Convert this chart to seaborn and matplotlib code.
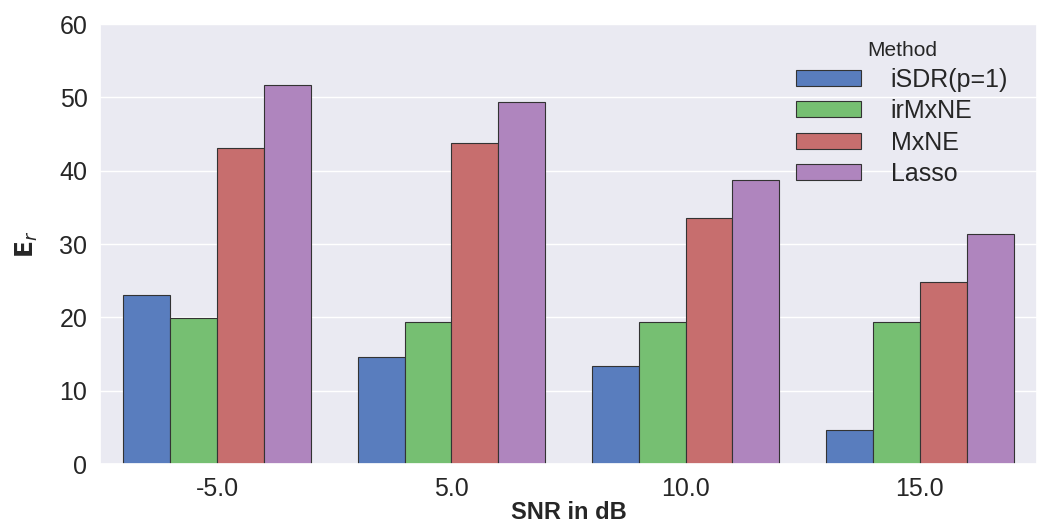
import pandas as pd
import matplotlib.pyplot as plt
import seaborn as sns

snr_levels = ['-5.0', '5.0', '10.0', '15.0']
methods = ['iSDR(p=1)', 'irMxNE', 'MxNE', 'Lasso']

isdr = [23.0, 14.6, 13.4, 4.6]
irmxne = [19.9, 19.4, 19.4, 19.4]
mxne = [43.1, 43.8, 33.6, 24.8]
lasso = [51.7, 49.3, 38.7, 31.4]

values = {'iSDR(p=1)': isdr, 'irMxNE': irmxne, 'MxNE': mxne, 'Lasso': lasso}
rows = []
for m in methods:
    for snr, v in zip(snr_levels, values[m]):
        rows.append({'SNR in dB': snr, 'Method': m, 'Er': v})
df = pd.DataFrame(rows)

# old seaborn "muted" colours
colors = ['#4878CF', '#6ACC65', '#D65F5F', '#B47CC7']

sns.set_theme(style='darkgrid')
plt.rcParams['font.family'] = ['Liberation Sans', 'DejaVu Sans']

fig = plt.figure(figsize=(10.37, 5.22), dpi=100)
ax = fig.add_axes([0.0964, 0.111, 0.9036, 0.843])

sns.barplot(data=df, x='SNR in dB', y='Er', hue='Method', order=snr_levels,
            hue_order=methods, palette=colors, edgecolor='#333333',
            linewidth=0.8, errorbar=None, ax=ax)

ax.set_ylim(0, 60)
ax.set_yticks(range(0, 61, 10))
ax.tick_params(axis='both', labelsize=18, colors='#262626', pad=3)
ax.set_xlabel('SNR in dB', fontsize=17, fontweight='bold', labelpad=0)
ax.set_ylabel(r'$\mathbf{E}_r$', fontsize=18, fontweight='bold', labelpad=14)

leg = ax.legend(title='Method', loc='upper right', frameon=False, fontsize=18,
                title_fontsize=15, handlelength=2.6, handleheight=0.6,
                handletextpad=1.2, labelspacing=0.3, borderaxespad=0.2,
                bbox_to_anchor=(0.985, 0.995))

fig.savefig('out.png', dpi=100)
